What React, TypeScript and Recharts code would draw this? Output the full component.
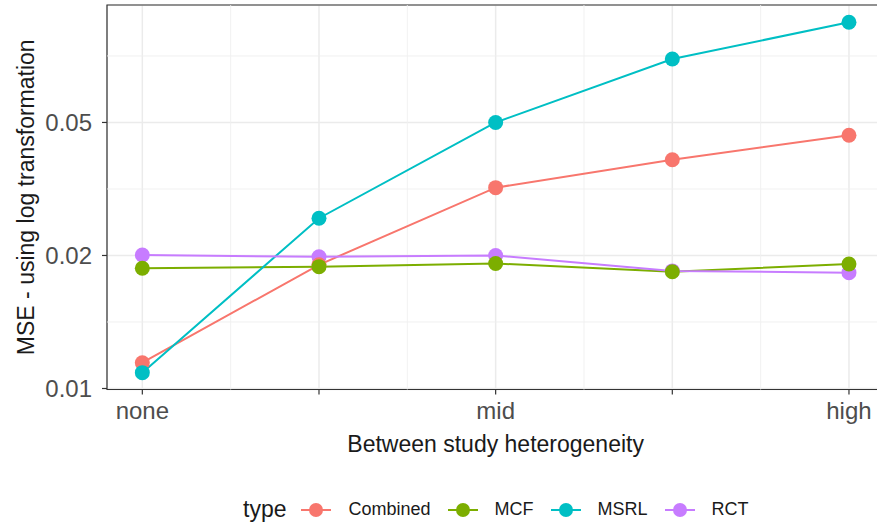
import React from 'react';
import { LineChart, Line, XAxis, YAxis, CartesianGrid, ReferenceArea, ReferenceLine, Legend } from 'recharts';

// x positions (discrete heterogeneity levels) and their tick labels
const positions = [1, 2, 3, 4, 5];
const xLabels = ['none', '', 'mid', '', 'high'];

// y axis is in log-transformed units: one unit per labelled break
const yTicks = [0, 1, 2];
const yLabels = ['0.01', '0.02', '0.05'];
const yMinor = [0.5, 1.5, 2.5];
const xMinor = [1.5, 2.5, 3.5, 4.5];

// series values (log-axis units)
const combined = [0.194, 0.93, 1.51, 1.72, 1.904];
const mcf = [0.904, 0.916, 0.94, 0.878, 0.936];
const msrl = [0.119, 1.28, 2.0, 2.477, 2.753];
const rct = [1.004, 0.99, 1.0, 0.884, 0.871];

const seriesNames = ['Combined', 'MCF', 'MSRL', 'RCT'];
const seriesColors: Record<string, string> = {
  Combined: '#F8766D',
  MCF: '#7CAE00',
  MSRL: '#00BFC4',
  RCT: '#C77CFF',
};
// points are drawn first, in this order; lines go on top
const pointOrder = ['RCT', 'Combined', 'MSRL', 'MCF'];

const data = positions.map((x, i) => ({
  x,
  Combined: combined[i],
  MCF: mcf[i],
  MSRL: msrl[i],
  RCT: rct[i],
}));

const FONT = '"Liberation Sans", Arial, Helvetica, sans-serif';
const X_DOMAIN: [number, number] = [0.8, 5.2];
const Y_DOMAIN: [number, number] = [-0.0075, 2.883];

const LegendContent = () => (
  <div style={{ display: 'flex', alignItems: 'center', fontFamily: FONT, color: '#1a1a1a' }}>
    <span style={{ fontSize: 23, marginRight: 15 }}>type</span>
    {seriesNames.map((name) => (
      <span key={name} style={{ display: 'flex', alignItems: 'center', marginRight: 17 }}>
        <svg width={30} height={20} style={{ marginRight: 17 }}>
          <line x1={0} y1={10} x2={30} y2={10} stroke={seriesColors[name]} strokeWidth={2} />
          <circle cx={15} cy={10} r={7} fill={seriesColors[name]} />
        </svg>
        <span style={{ fontSize: 18 }}>{name}</span>
      </span>
    ))}
  </div>
);

export default function App() {
  return (
    <div style={{ position: 'absolute', left: 0, top: 0, width: 877, height: 527, overflow: 'hidden', background: '#fff' }}>
      <LineChart
        width={900}
        height={527}
        data={data}
        margin={{ top: 5, right: 15.7, left: 0, bottom: 67.5 }}
      >
        {/* major grid */}
        <CartesianGrid stroke="#EBEBEB" strokeWidth={1.5} />
        {/* minor grid */}
        {yMinor.map((v) => (
          <ReferenceLine key={`hy-${v}`} y={v} stroke="#EFEFEF" strokeWidth={0.9} />
        ))}
        {xMinor.map((v) => (
          <ReferenceLine key={`vx-${v}`} x={v} stroke="#EFEFEF" strokeWidth={0.9} />
        ))}
        <ReferenceArea
          x1={X_DOMAIN[0]}
          x2={X_DOMAIN[1]}
          y1={Y_DOMAIN[0]}
          y2={Y_DOMAIN[1]}
          fill="none"
          fillOpacity={0}
          stroke="#333333"
          strokeWidth={1.2}
        />
        <XAxis
          dataKey="x"
          type="number"
          domain={X_DOMAIN}
          ticks={positions}
          allowDataOverflow
          height={70}
          axisLine={false}
          tickLine={{ stroke: '#333333', strokeWidth: 1.2 }}
          tickSize={5}
          tickMargin={7}
          tick={{ fill: '#4D4D4D', fontSize: 24, fontFamily: FONT }}
          tickFormatter={(v: number) => xLabels[v - 1]}
          label={{
            content: ({ viewBox }: any) => (
              <text
                x={viewBox.x + viewBox.width / 2}
                y={viewBox.y + 62.5}
                textAnchor="middle"
                fontSize={23}
                fontFamily={FONT}
                fill="#1a1a1a"
              >
                Between study heterogeneity
              </text>
            ),
          }}
        />
        <YAxis
          type="number"
          domain={Y_DOMAIN}
          ticks={yTicks}
          allowDataOverflow
          width={107}
          axisLine={false}
          tickLine={{ stroke: '#333333', strokeWidth: 1.2 }}
          tickSize={5}
          tickMargin={10}
          tick={{ fill: '#4D4D4D', fontSize: 24, fontFamily: FONT }}
          tickFormatter={(v: number) => yLabels[v]}
          label={{
            content: ({ viewBox }: any) => {
              const cx = viewBox.x + 26;
              const cy = viewBox.y + viewBox.height / 2;
              return (
                <text
                  x={cx}
                  y={cy}
                  transform={`rotate(-90, ${cx}, ${cy})`}
                  textAnchor="middle"
                  dominantBaseline="central"
                  fontSize={23}
                  fontFamily={FONT}
                  fill="#1a1a1a"
                >
                  MSE - using log transformation
                </text>
              );
            },
          }}
        />
        {pointOrder.map((name) => (
          <Line
            key={`pt-${name}`}
            dataKey={name}
            stroke="none"
            isAnimationActive={false}
            dot={{ r: 7.5, fill: seriesColors[name], stroke: 'none' }}
            activeDot={false}
            legendType="none"
          />
        ))}
        {seriesNames.map((name) => (
          <Line
            key={`ln-${name}`}
            dataKey={name}
            stroke={seriesColors[name]}
            strokeWidth={2}
            isAnimationActive={false}
            dot={false}
            activeDot={false}
          />
        ))}
        <Legend
          verticalAlign="middle"
          align="center"
          layout="horizontal"
          content={() => <LegendContent />}
          wrapperStyle={{ position: 'absolute', top: 496, left: 243, width: 620, height: 28 }}
        />
      </LineChart>
    </div>
  );
}
